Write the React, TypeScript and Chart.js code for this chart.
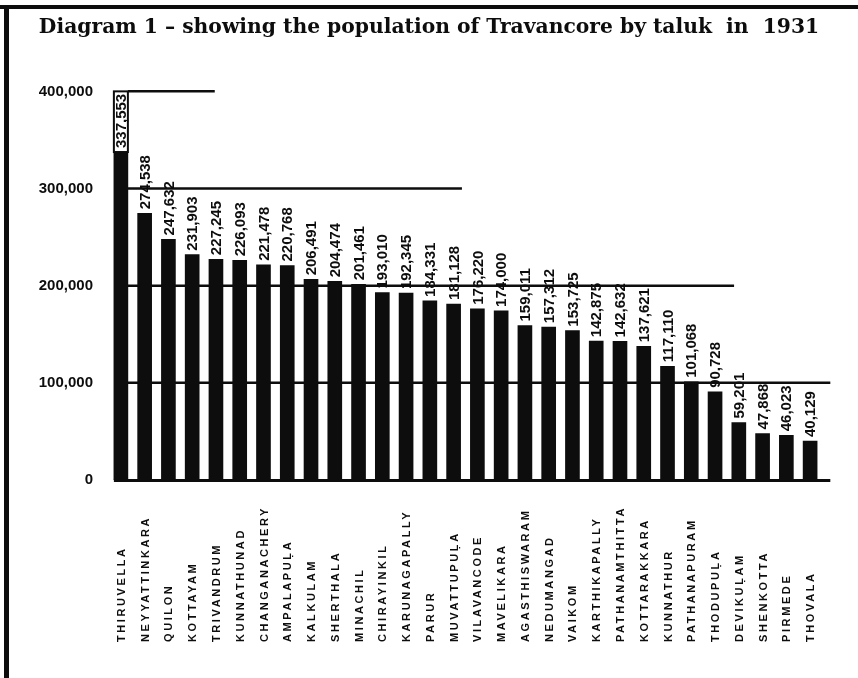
import React, { useEffect, useRef } from 'react';
import { Chart, registerables } from 'chart.js';

Chart.register(...registerables);

const taluks = [
  'THIRUVELLA', 'NEYYATTINKARA', 'QUILON', 'KOTTAYAM', 'TRIVANDRUM',
  'KUNNATHUNAD', 'CHANGANACHERY', 'AMPALAPUḶA', 'KALKULAM', 'SHERTHALA',
  'MINACHIL', 'CHIRAYINKIL', 'KARUNAGAPALLY', 'PARUR', 'MUVATTUPUḶA',
  'VILAVANCODE', 'MAVELIKARA', 'AGASTHISWARAM', 'NEDUMANGAD', 'VAIKOM',
  'KARTHIKAPALLY', 'PATHANAMTHITTA', 'KOTTARAKKARA', 'KUNNATHUR', 'PATHANAPURAM',
  'THODUPUḶA', 'DEVIKUḶAM', 'SHENKOTTA', 'PIRMEDE', 'THOVALA',
];

const population = [
  337553, 274538, 247632, 231903, 227245,
  226093, 221478, 220768, 206491, 204474,
  201461, 193010, 192345, 184331, 181128,
  176220, 174000, 159011, 157312, 153725,
  142875, 142632, 137621, 117110, 101068,
  90728, 59201, 47868, 46023, 40129,
];

const yTickValues = [0, 100000, 200000, 300000, 400000];

const titleText = 'Diagram 1 \u2013 showing the population of Travancore by taluk  in  1931';

// horizontal guide rules: level and the category (fractional index) they reach
const guideLevels = [400000, 300000, 200000, 100000];
const guideReach = [3.95, 14.35, 25.8, 29.85];

const INK = '#0d0d0d';
const BAR_W = 14;

const scanPlugin = {
  id: 'scanPlugin',
  beforeDatasetsDraw(chart: any) {
    const { ctx, scales } = chart;
    const x = scales.x;
    const y = scales.y;
    ctx.save();
    ctx.strokeStyle = INK;
    ctx.lineWidth = 2.5;
    const startX = x.getPixelForValue(0) + BAR_W / 2;
    guideLevels.forEach((lv, i) => {
      const yy = y.getPixelForValue(lv);
      ctx.beginPath();
      ctx.moveTo(startX, yy);
      ctx.lineTo(x.getPixelForValue(guideReach[i]), yy);
      ctx.stroke();
    });
    ctx.restore();
  },
  afterDatasetsDraw(chart: any) {
    const { ctx, scales } = chart;
    const x = scales.x;
    const y = scales.y;
    const meta = chart.getDatasetMeta(0);
    ctx.save();
    // baseline
    ctx.strokeStyle = INK;
    ctx.lineWidth = 3;
    const y0 = y.getPixelForValue(0);
    ctx.beginPath();
    ctx.moveTo(x.getPixelForValue(0) - BAR_W / 2, y0 + 0.5);
    ctx.lineTo(x.getPixelForValue(29.85), y0 + 0.5);
    ctx.stroke();

    // outline box above first bar
    const b0 = meta.data[0];
    const yTop = y.getPixelForValue(400000);
    ctx.lineWidth = 2;
    ctx.strokeRect(b0.x - BAR_W / 2, yTop, BAR_W, b0.y - yTop);

    ctx.fillStyle = INK;
    meta.data.forEach((bar: any, i: number) => {
      // value label
      ctx.save();
      ctx.translate(bar.x, bar.y - 4);
      ctx.rotate(-Math.PI / 2);
      ctx.font = 'bold 15px "Liberation Sans", Arial, sans-serif';
      ctx.textAlign = 'left';
      ctx.textBaseline = 'middle';
      ctx.fillText(population[i].toLocaleString('en-US'), 0, 1);
      ctx.restore();

      // category label, bottom aligned
      ctx.save();
      ctx.translate(bar.x, 642);
      ctx.rotate(-Math.PI / 2);
      ctx.font = 'bold 11px "Liberation Sans", Arial, sans-serif';
      (ctx as any).letterSpacing = '2.6px';
      ctx.textAlign = 'left';
      ctx.textBaseline = 'middle';
      ctx.fillText(taluks[i], 0, 1);
      ctx.restore();
    });
    ctx.restore();
  },
};

export default function App() {
  const canvasRef = useRef<HTMLCanvasElement | null>(null);

  useEffect(() => {
    const canvas = canvasRef.current;
    if (!canvas) return;
    const chart = new Chart(canvas, {
      type: 'bar',
      data: {
        labels: taluks,
        datasets: [
          {
            data: population,
            backgroundColor: INK,
            borderWidth: 0,
            barThickness: BAR_W,
          },
        ],
      },
      options: {
        responsive: false,
        animation: false,
        layout: { padding: { left: 36, right: 36, top: 0, bottom: 198 } },
        plugins: {
          legend: { display: false },
          tooltip: { enabled: false },
          title: {
            display: true,
            text: titleText,
            color: INK,
            font: { family: '"DejaVu Serif", serif', size: 20.3, weight: 'bold' },
            padding: { top: 16, bottom: 51 },
          },
        },
        scales: {
          x: {
            display: false,
            grid: { display: false },
          },
          y: {
            min: 0,
            max: 400000,
            afterFit: (scale: any) => {
              scale.width = 73;
            },
            afterBuildTicks: (scale: any) => {
              scale.ticks = yTickValues.map((v) => ({ value: v }));
            },
            grid: { display: false, drawTicks: false },
            border: { display: false },
            ticks: {
              padding: 16,
              color: INK,
              font: { family: '"Liberation Sans", Arial, sans-serif', size: 15, weight: 'bold' },
              callback: (v: any) => Number(v).toLocaleString('en-US'),
            },
          },
        },
      },
      plugins: [scanPlugin],
    });
    return () => chart.destroy();
  }, []);

  return (
    <div style={{ position: 'fixed', left: 0, top: 0, width: 858, height: 678, background: '#fff' }}>
      <canvas ref={canvasRef} width={858} height={678} style={{ display: 'block' }} />
      <div style={{ position: 'absolute', left: 0, top: 5, width: 858, height: 4, background: INK }} />
      <div style={{ position: 'absolute', left: 4, top: 9, width: 5, height: 669, background: INK }} />
    </div>
  );
}
